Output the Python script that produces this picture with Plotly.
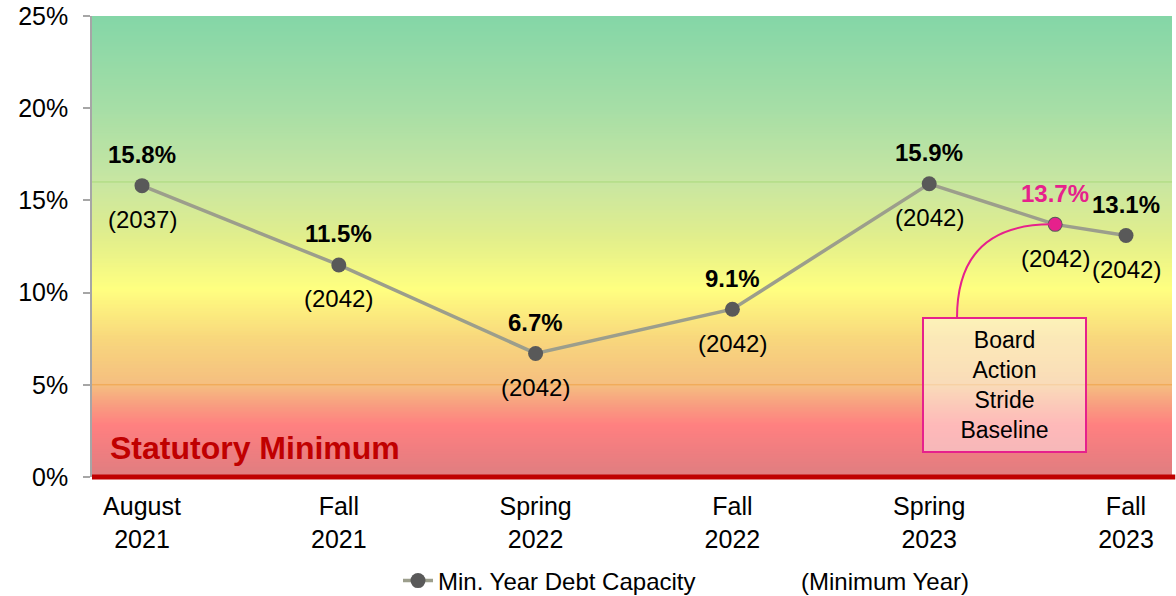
import plotly.graph_objects as go

# ---- data ----
categories = ["August<br>2021", "Fall<br>2021", "Spring<br>2022", "Fall<br>2022", "Spring<br>2023", "Fall<br>2023"]
cat_pos = [0, 1, 2, 3, 4, 5]
series_x = [0, 1, 2, 3, 4, 4.64, 5]
capacity = [15.8, 11.5, 6.7, 9.1, 15.9, 13.7, 13.1]
min_year = ["2037", "2042", "2042", "2042", "2042", "2042", "2042"]
board_x = 4.64
board_value = 13.7
board_label = "Board<br>Action<br>Stride<br>Baseline"
y_ticks = [0, 5, 10, 15, 20, 25]

# gradient stops (percent, rgb)
grad_stops = [
    (0.0, (222, 126, 128)),
    (1.5, (240, 126, 128)),
    (2.8, (255, 128, 128)),
    (4.0, (248, 160, 128)),
    (5.0, (245, 190, 128)),
    (7.5, (248, 215, 125)),
    (10.2, (255, 255, 128)),
    (13.0, (225, 238, 140)),
    (16.0, (200, 230, 162)),
    (20.0, (166, 222, 166)),
    (25.0, (132, 214, 167)),
]

MAGENTA = "#E6218C"
FONT = "Liberation Sans, Arial"

def color_at(v):
    for (a, ca), (b, cb) in zip(grad_stops[:-1], grad_stops[1:]):
        if a <= v <= b:
            t = (v - a) / (b - a) if b > a else 0
            c = [round(ca[i] + (cb[i] - ca[i]) * t) for i in range(3)]
            return f"rgb({c[0]},{c[1]},{c[2]})"
    c = grad_stops[-1][1]
    return f"rgb({c[0]},{c[1]},{c[2]})"

fig = go.Figure()

fig.add_trace(go.Scatter(
    x=series_x, y=capacity, mode="lines+markers",
    name="Min. Year Debt Capacity",
    line=dict(color="#9C9E8C", width=3.5),
    marker=dict(color="#595959", size=15),
    hoverinfo="skip",
))
fig.add_trace(go.Scatter(
    x=[board_x], y=[board_value], mode="markers",
    marker=dict(color=MAGENTA, size=13),
    showlegend=False, hoverinfo="skip",
))

shapes = []
step = 0.1
n = int(25 / step)
for i in range(n):
    y0 = i * step
    shapes.append(dict(type="rect", xref="paper", yref="y", x0=0, x1=1,
                       y0=y0, y1=min(25, y0 + step * 1.6),
                       fillcolor=color_at(y0 + step / 2), line=dict(width=0),
                       layer="below"))
shapes.append(dict(type="line", xref="paper", yref="y", x0=0, x1=1, y0=16, y1=16,
                   line=dict(color="#A9D97A", width=1), layer="below"))
shapes.append(dict(type="line", xref="paper", yref="y", x0=0, x1=1, y0=5, y1=5,
                   line=dict(color="#EFA64A", width=1), layer="below"))
# statutory minimum line at 0% (paper-referenced so it is not clipped)
shapes.append(dict(type="line", xref="paper", yref="paper", x0=0, x1=1.003, y0=0, y1=0,
                   line=dict(color="#C00000", width=5)))
# curved connector
cx0 = (957 - 142) / 196.8
cy0 = (477 - 318) / 18.44
shapes.append(dict(type="path", xref="x", yref="y",
                   path=f"M {cx0},{cy0} Q {cx0},{board_value} {board_x - 0.02},{board_value}",
                   line=dict(color=MAGENTA, width=2)))

annotations = []
for x, v, yr in zip(series_x, capacity, min_year):
    is_board = x == board_x
    annotations.append(dict(x=x, y=v, text=f"<b>{v:.1f}%</b>", showarrow=False, yshift=31,
                            font=dict(size=24, color=MAGENTA if is_board else "black", family=FONT)))
    annotations.append(dict(x=x, y=v, text=f"({yr})", showarrow=False, yshift=-34,
                            font=dict(size=24, color="black", family=FONT)))

annotations.append(dict(x=(1004.5 - 142) / 196.8, y=5.0, text=board_label, showarrow=False,
                        width=161, height=132, bgcolor="rgba(255,255,255,0.45)",
                        bordercolor=MAGENTA, borderwidth=2, borderpad=0,
                        font=dict(size=23, color="black", family=FONT)))
annotations.append(dict(xref="paper", yref="y", x=0.015, y=1.55, xanchor="left", yanchor="middle",
                        text="<b>Statutory Minimum</b>", showarrow=False,
                        font=dict(size=32, color="#C00000", family=FONT)))
annotations.append(dict(xref="paper", yref="paper", x=(885 - 92) / 1080, y=-(581 - 477) / 461,
                        text="(Minimum Year)", showarrow=False, xanchor="center", yanchor="middle",
                        font=dict(size=24, color="black", family=FONT)))

fig.update_layout(
    width=1176, height=596,
    margin=dict(l=92, r=4, t=16, b=119, autoexpand=False),
    paper_bgcolor="white", plot_bgcolor="white",
    font=dict(family=FONT, color="black"),
    shapes=shapes, annotations=annotations,
    showlegend=True,
    legend=dict(orientation="h", xref="container", yref="container",
                x=398 / 1176, xanchor="left",
                y=(596 - 581) / 596, yanchor="middle",
                font=dict(size=24, family=FONT), bgcolor="rgba(0,0,0,0)"),
    xaxis=dict(range=[-50 / 196.8, 5 + 46 / 196.8], tickvals=cat_pos, ticktext=categories,
               showgrid=False, zeroline=False, showline=False, ticks="",
               tickfont=dict(size=25), fixedrange=True, automargin=False,
               ticklabelstandoff=12),
    yaxis=dict(range=[0, 25], tickvals=y_ticks, ticktext=[f"{t}%" for t in y_ticks],
               showgrid=False, zeroline=False, showline=True, linecolor="#A6A6A6", linewidth=1.5,
               ticks="outside", ticklen=7, tickcolor="#A6A6A6", tickwidth=1.5,
               tickfont=dict(size=25), fixedrange=True, automargin=False,
               ticklabelstandoff=10),
)

fig.write_html("out.html", config={"displayModeBar": False},
               post_script="document.body.style.margin='0';document.body.style.overflow='hidden';")
